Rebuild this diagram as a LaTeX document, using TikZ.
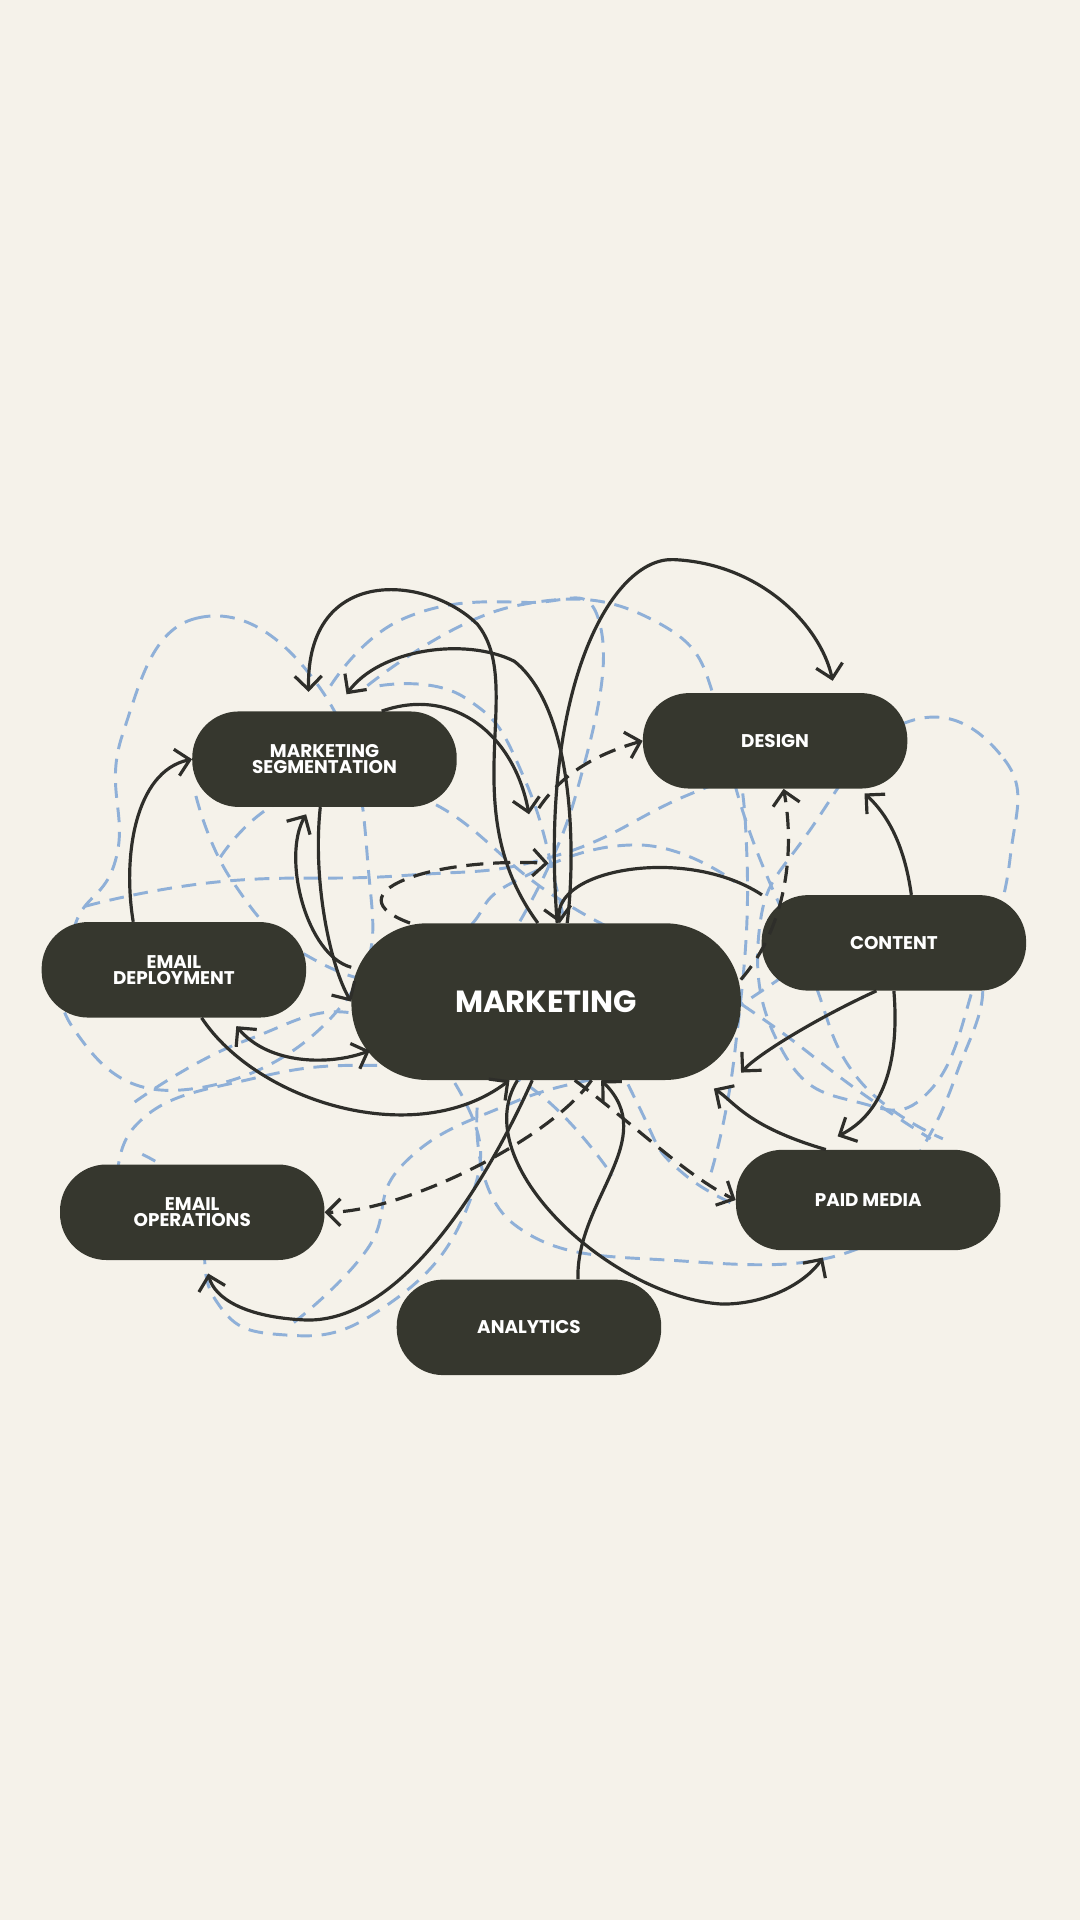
\documentclass[tikz,border=0pt]{standalone}
\usepackage{fontspec}
\setmainfont{Poppins}
\usetikzlibrary{arrows.meta}
\definecolor{bg}{HTML}{F5F2EA}
\definecolor{pill}{HTML}{36372E}
\definecolor{ink}{HTML}{2E2E2A}
\definecolor{bl}{HTML}{8FB0D8}
\tikzset{
 pillbox/.style={draw=none,fill=pill,text=white,rounded corners=38pt,minimum width=216pt,minimum height=78pt,align=center,font=\fontsize{15}{16}\selectfont\bfseries,inner sep=0pt},
 conn/.style={ink,line width=2.6pt,-{Straight Barb[length=11pt,width=22pt,line width=2.6pt]}},
 dconn/.style={conn,dash pattern=on 14pt off 8pt},
 blued/.style={bl,line width=2.4pt,dash pattern=on 12pt off 8pt}
}
\begin{document}
\begin{tikzpicture}[x=1pt,y=-1pt]
\fill[bg] (0,0) rectangle (882,1568);
\useasboundingbox (0,0) rectangle (882,1568);
% blue dashed loops
\draw[blued] plot[smooth cycle,tension=0.8] coordinates{(100,600)(160,505)(260,560)(300,700)(280,820)(150,890)(60,840)(60,760)(95,700)};
\draw[blued] plot[smooth,tension=0.8] coordinates{(270,560)(330,505)(430,492)(490,510)(470,650)(420,760)};
\draw[blued] plot[smooth,tension=0.8] coordinates{(300,560)(420,495)(540,510)(590,590)(610,700)(600,860)(580,960)};
\draw[blued] plot[smooth cycle,tension=0.8] coordinates{(740,590)(820,620)(825,700)(800,790)(760,890)(700,900)(640,860)(620,760)(660,680)};
\draw[blued] plot[smooth,tension=0.8] coordinates{(740,740)(800,790)(780,880)(740,960)(700,1020)(560,1030)(420,1000)(390,900)};
\draw[blued] plot[smooth,tension=0.8] coordinates{(110,900)(200,850)(300,830)(380,900)(380,990)(310,1070)(230,1090)(175,1060)(160,980)(110,940)};
\draw[blued] plot[smooth,tension=0.8] coordinates{(70,740)(180,720)(330,715)(450,700)(560,650)(640,620)};
\draw[blued] plot[smooth,tension=0.8] coordinates{(180,700)(240,650)(340,650)(450,730)(540,780)(620,830)(700,890)(760,930)};
\draw[blued] plot[smooth,tension=0.8] coordinates{(310,560)(380,570)(430,640)(470,780)(520,900)(560,960)(640,1000)};
\draw[blued] plot[smooth,tension=0.8] coordinates{(600,640)(620,700)(660,790)(700,880)(770,930)};
\draw[blued] plot[smooth,tension=0.8] coordinates{(100,1000)(110,920)(210,880)(320,870)(420,880)(500,960)};
\draw[blued] plot[smooth,tension=0.8] coordinates{(240,1080)(300,1020)(330,950)(420,900)(520,870)(590,830)(650,790)};
\draw[blued] plot[smooth,tension=0.8] coordinates{(160,650)(190,720)(250,780)(330,800)(380,760)(420,720)(520,690)(600,720)};
% nodes
\node[pillbox] (seg) at (265,620) {MARKETING\\[-3pt]SEGMENTATION};
\node[pillbox] (des) at (633,605) {DESIGN};
\node[pillbox] (dep) at (142,792) {EMAIL\\[-3pt]DEPLOYMENT};
\node[pillbox] (con) at (730,770) {CONTENT};
\node[pillbox] (ops) at (157,990) {EMAIL\\[-3pt]OPERATIONS};
\node[pillbox,minimum height=82pt] (paid) at (709,980) {PAID MEDIA};
\node[pillbox] (ana) at (432,1084) {ANALYTICS};
\node[pillbox,minimum width=318pt,minimum height=128pt,rounded corners=62pt,font=\fontsize{25}{26}\selectfont\bfseries] (mk) at (446,818) {MARKETING};
% black connectors
\draw[conn] (mk.82) .. controls (440,560) and (500,455) .. (550,457) .. controls (620,460) and (670,510) .. (680,556);
\draw[conn] (mk.96) .. controls (370,660) and (430,560) .. (390,510) .. controls (350,470) and (250,460) .. (252,565);
\draw[conn] (mk.75) .. controls (470,700) and (470,580) .. (420,540) .. controls (380,520) and (310,530) .. (283,567);
\draw[conn] (seg.40) .. controls (370,560) and (420,600) .. (432,665);
\draw[conn] (dep.north west) ++(75,0) .. controls (100,700) and (110,630) .. (seg.west);
\draw[conn] (mk.170) .. controls (250,780) and (230,700) .. (250,665);
\draw[conn] (seg.-95) .. controls (255,720) and (270,790) .. (mk.180);
\draw[conn,{Straight Barb[length=11pt,width=22pt,line width=2.6pt]}-{Straight Barb[length=11pt,width=22pt,line width=2.6pt]}] (193,838) .. controls (220,870) and (270,870) .. (302,858);
\draw[conn] (dep.-60) .. controls (210,900) and (340,940) .. (mk.-115);
\draw[dconn] (mk.-60) .. controls (450,930) and (330,990) .. (ops.east);
\draw[conn] (mk.-100) .. controls (400,960) and (330,1080) .. (250,1078) .. controls (200,1076) and (175,1060) .. (170,1040);
\draw[conn] (mk.-110) .. controls (380,950) and (500,1060) .. (590,1065) .. controls (630,1065) and (660,1045) .. (672,1027);
\draw[conn] (ana.north) ++(40,0) .. controls (470,980) and (540,930) .. (mk.-55);
\draw[dconn] (mk.-70) .. controls (520,920) and (560,960) .. (paid.west);
\draw[conn] (paid.130) .. controls (610,920) and (600,900) .. (583,889);
\draw[conn] (con.-90) .. controls (735,870) and (720,910) .. (684,928);
\draw[conn] (con.70) .. controls (740,700) and (730,670) .. (706,648);
\draw[dconn] (605,800) .. controls (640,760) and (650,700) .. (des.-80);
\draw[conn] (con.160) .. controls (560,690) and (450,710) .. (mk.80);
\draw[conn] (con.-110) .. controls (670,830) and (620,860) .. (mk.-20);
\draw[dconn] (mk.150) .. controls (270,730) and (350,700) .. (448,705);
\draw[dconn] (440,660) .. controls (460,630) and (490,615) .. (des.west);
\end{tikzpicture}
\end{document}
